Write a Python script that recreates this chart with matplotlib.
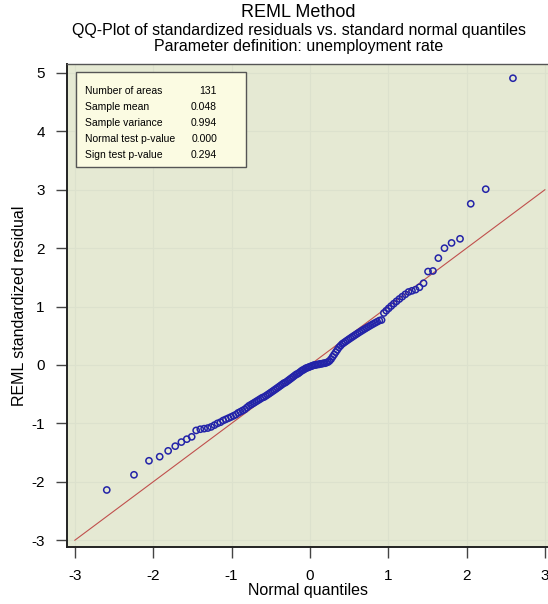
from statistics import NormalDist
import numpy as np
import matplotlib.pyplot as plt
from matplotlib.patches import Rectangle

plt.rcParams['font.family'] = ['Liberation Sans', 'DejaVu Sans']
plt.rcParams['axes.unicode_minus'] = False

# sorted standardized residuals (131 areas)
residuals = [
    -2.14, -1.88, -1.64, -1.57, -1.47, -1.39, -1.32, -1.27, -1.23, -1.12,
    -1.10, -1.09, -1.08, -1.06, -1.03, -1.00, -0.98, -0.95, -0.93, -0.91,
    -0.89, -0.87, -0.85, -0.82, -0.80, -0.78, -0.76, -0.73, -0.70, -0.68,
    -0.66, -0.64, -0.62, -0.60, -0.58, -0.56, -0.55, -0.53, -0.51, -0.49,
    -0.47, -0.45, -0.43, -0.41, -0.39, -0.37, -0.35, -0.33, -0.31, -0.30,
    -0.28, -0.26, -0.24, -0.22, -0.20, -0.18, -0.16, -0.15, -0.13, -0.11,
    -0.09, -0.08, -0.06, -0.05, -0.04, -0.03, -0.02, -0.01, 0.00, 0.00,
    0.01, 0.01, 0.02, 0.02, 0.03, 0.03, 0.04, 0.05, 0.07, 0.10,
    0.14, 0.18, 0.22, 0.26, 0.30, 0.33, 0.36, 0.38, 0.40, 0.42,
    0.44, 0.46, 0.48, 0.50, 0.52, 0.54, 0.56, 0.58, 0.60, 0.62,
    0.64, 0.66, 0.68, 0.70, 0.72, 0.74, 0.76, 0.77, 0.89, 0.93,
    0.97, 1.01, 1.05, 1.09, 1.13, 1.17, 1.21, 1.25, 1.27, 1.29,
    1.33, 1.40, 1.60, 1.61, 1.83, 2.00, 2.09, 2.16, 2.76, 3.01,
    4.91,
]

stat_labels = ["Number of areas", "Sample mean", "Sample variance",
               "Normal test p-value", "Sign test p-value"]
stat_values = ["131", "0.048", "0.994", "0.000", "0.294"]

ref_line = [-3, 3]
xticks = [-3, -2, -1, 0, 1, 2, 3]
yticks = [-3, -2, -1, 0, 1, 2, 3, 4, 5]

# theoretical normal quantiles (Blom plotting positions)
n = len(residuals)
nd = NormalDist()
quantiles = np.array([nd.inv_cdf((i - 0.375) / (n + 0.25)) for i in range(1, n + 1)])

fig = plt.figure(figsize=(5.48, 6.04), dpi=100)
ax = fig.add_axes([0.1223, 0.0944, 0.8777, 0.7997])
ax.set_facecolor('#e5e9d3')

ax.set_xlim(-3.1, 3.04)
ax.set_ylim(-3.116, 5.154)
ax.set_xticks(xticks)
ax.set_yticks(yticks)
ax.grid(True, color='#dce1cd', lw=0.8)
ax.set_axisbelow(True)

ax.plot(ref_line, ref_line, color='#c0504d', lw=0.8, zorder=2)
ax.scatter(quantiles, residuals, s=20, facecolors='none',
           edgecolors='#2323a8', linewidths=1.1, zorder=3)

for s in ['left', 'bottom']:
    ax.spines[s].set_linewidth(1.4)
    ax.spines[s].set_color('#222222')
ax.spines['top'].set_color('#555555')
ax.spines['top'].set_linewidth(1.0)
ax.spines['right'].set_visible(False)
ax.tick_params(direction='out', length=8, width=1.0, color='#444444',
               labelsize=11, pad=8)

ax.set_xlabel('Normal quantiles', fontsize=11.5, labelpad=0)
ax.set_ylabel('REML standardized residual', fontsize=11.5, labelpad=3)

cx = 0.545
fig.text(cx, 0.979, 'REML Method', ha='center', va='center', fontsize=13)
fig.text(cx, 0.950, 'QQ-Plot of standardized residuals vs. standard normal quantiles',
         ha='center', va='center', fontsize=11.5)
fig.text(cx, 0.923, 'Parameter definition: unemployment rate',
         ha='center', va='center', fontsize=11.5)

# statistics box
ax.add_patch(Rectangle((0.0187, 0.7867), 0.3533, 0.1967, transform=ax.transAxes,
                       facecolor='#fbfbe2', edgecolor='#555555', lw=1.0, zorder=4))
for k, (lab, val) in enumerate(zip(stat_labels, stat_values)):
    yy = 0.944 - k * 0.0331
    ax.text(0.0374, yy, lab, transform=ax.transAxes, fontsize=7.5,
            va='center', ha='left', zorder=5)
    ax.text(0.312, yy, val, transform=ax.transAxes, fontsize=7.5,
            va='center', ha='right', zorder=5)

fig.savefig('out.png', dpi=100)
